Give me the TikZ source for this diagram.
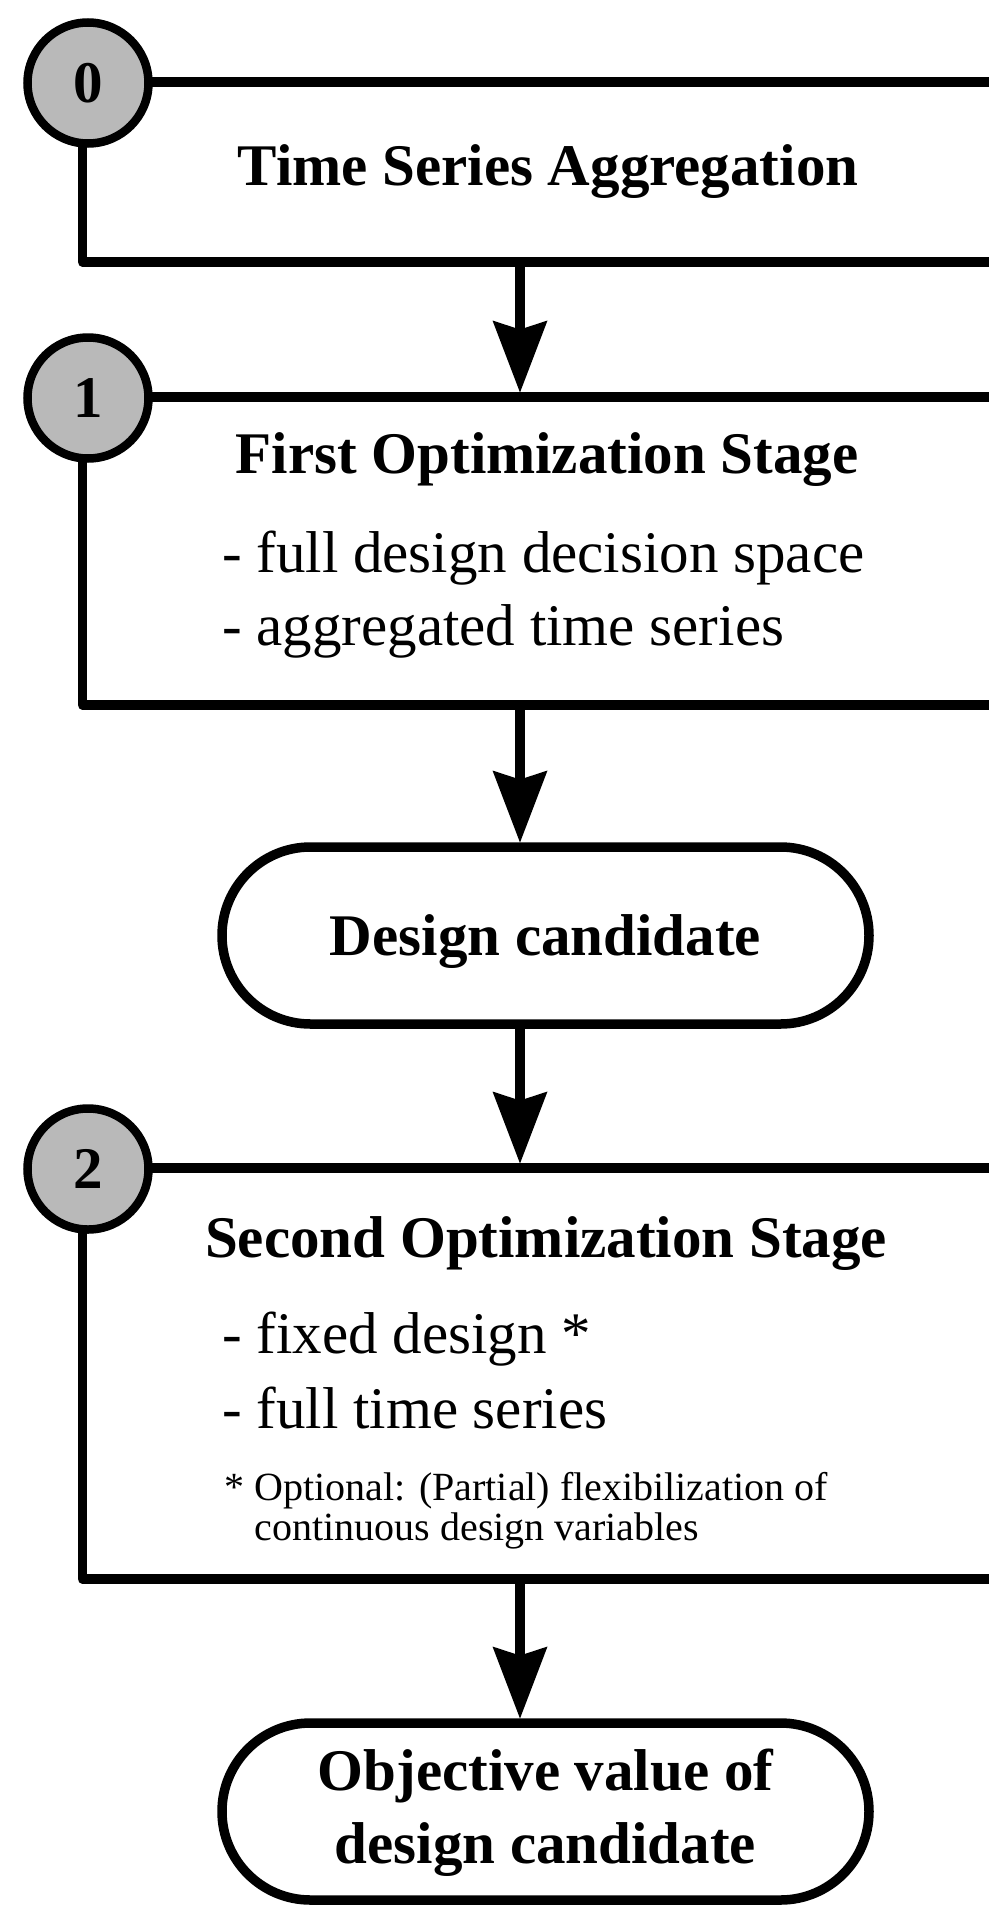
\documentclass[tikz,border=0pt]{standalone}
\usepackage{fontspec}
\setmainfont{Liberation Serif}
\usetikzlibrary{arrows.meta,shapes.misc}
\begin{document}
\begin{tikzpicture}[x=1pt,y=-1pt,
  stagebox/.style={draw, line width=9.5pt, line join=round, rectangle, inner sep=0pt, outer sep=0pt,
                   minimum width=930pt, anchor=north west},
  badge/.style={circle, draw, line width=8.5pt, fill=gray!55, minimum size=121pt, inner sep=0pt,
                font=\fontsize{59}{59}\selectfont\bfseries},
  terminal/.style={rounded rectangle, draw, line width=9.5pt, minimum width=647pt, minimum height=177pt,
                   inner sep=0pt, outer sep=0pt},
  title/.style={font=\fontsize{59}{59}\selectfont\bfseries, anchor=base, inner sep=0pt},
  item/.style={font=\fontsize{59}{59}\selectfont, anchor=base west, inner sep=0pt},
  note/.style={font=\fontsize{40}{40}\selectfont, anchor=base west, inner sep=0pt},
  flow/.style={line width=10pt, -{Stealth[length=72pt,width=55pt,inset=9pt,line width=0pt]}, shorten >=4.5pt}
]
\useasboundingbox (0,0) rectangle (988,1908);

% stage frames (open towards the right edge)
\node[stagebox, minimum height=180pt] (s0) at (82.5,82) {};
\node[stagebox, minimum height=308pt] (s1) at (82.5,397) {};
\node[stagebox, minimum height=411pt] (s2) at (82.5,1168) {};

% result terminals
\node[terminal] (t1) at (545.5,935.5) {};
\node[terminal] (t2) at (545.5,1811.5) {};

% stage numbers
\node[badge] (b0) at (88,83) {0};
\node[badge] (b1) at (88,398) {1};
\node[badge] (b2) at (88,1169) {2};

% stage 0
\node[title] (h0) at (548,185) {Time Series Aggregation};

% stage 1
\node[title] (h1) at (547,473) {First Optimization Stage};
\node[item] (i11) at (222,572) {- full design decision space};
\node[item] (i12) at (222,645) {- aggregated time series};

% candidate
\node[title] (c1) at (545.5,955) {Design candidate};

% stage 2
\node[title] (h2) at (546,1257) {Second Optimization Stage};
\node[item] (i21) at (222,1353) {- fixed design *};
\node[item] (i22) at (222,1428) {- full time series};
\node[note] (n1) at (224.5,1500) {* Optional: (Partial) flexibilization of};
\node[note] (n2) at (254.5,1540) {continuous design variables};

% objective
\node[title] (o1) at (545.5,1790) {Objective value of};
\node[title] (o2) at (545.5,1863) {design candidate};

% flow arrows
\coordinate (ax) at (520,0);
\draw[flow] (s0.south -| ax) -- (s1.north -| ax);
\draw[flow] (s1.south -| ax) -- (t1.north -| ax);
\draw[flow] (t1.south -| ax) -- (s2.north -| ax);
\draw[flow] (s2.south -| ax) -- (t2.north -| ax);
\end{tikzpicture}
\end{document}
